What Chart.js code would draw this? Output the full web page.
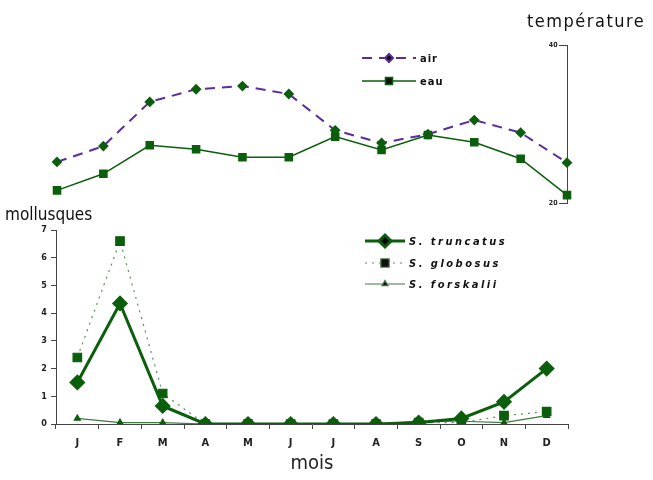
<!DOCTYPE html>
<html>
<head>
<meta charset="utf-8">
<script src="https://cdn.jsdelivr.net/npm/chart.js@4/dist/chart.umd.min.js"></script>
<style>
  body { margin: 0; background: #fff; width: 653px; height: 480px; overflow: hidden; position: relative; }
  .box { position: absolute; left: 0; }
</style>
</head>
<body>
<div class="box" style="top:0;width:653px;height:215px"><canvas id="tempChart"></canvas></div>
<div class="box" style="top:205px;width:653px;height:275px"><canvas id="molChart"></canvas></div>
<script>
const months = ["J", "F", "M", "A", "M", "J", "J", "A", "S", "O", "N", "D"];
const airTemp = [25.2, 27.2, 32.8, 34.4, 34.8, 33.8, 29.2, 27.6, 28.7, 30.5, 28.9, 25.1];
const waterTemp = [21.6, 23.7, 27.3, 26.8, 25.8, 25.8, 28.4, 26.7, 28.6, 27.7, 25.6, 21.0];
const truncatus = [1.5, 4.35, 0.65, 0, 0, 0, 0, 0, 0.05, 0.2, 0.8, 2.0];
const globosus = [2.4, 6.6, 1.1, 0, 0, 0, 0, 0, 0.05, 0.05, 0.3, 0.45];
const forskalii = [0.2, 0.05, 0.05, 0, 0, 0, 0, 0, 0.1, 0.1, 0.05, 0.3];
const tempTicks = [20, 40];

const green = "#0b5e0b";
const purple = "#5a2ca0";
const font = "'DejaVu Sans Condensed', 'DejaVu Sans', sans-serif";

// draws a small legend + free texts on the canvas
const annotate = {
  id: "annotate",
  afterDraw(chart, args, opts) {
    const ctx = chart.ctx;
    ctx.save();
    opts.legend.forEach((item, i) => {
      const ds = chart.data.datasets[i];
      const y = item.y;
      ctx.strokeStyle = ds.borderColor;
      ctx.lineWidth = ds.borderWidth;
      ctx.setLineDash(ds.borderDash || []);
      ctx.beginPath();
      ctx.moveTo(item.x, y);
      ctx.lineTo(item.x + item.w, y);
      ctx.stroke();
      ctx.setLineDash([]);
      Chart.helpers.drawPoint(ctx, {
        pointStyle: ds.pointStyle, radius: ds.pointRadius, rotation: 0, borderWidth: 1
      }, item.x + item.w / 2, y);
      ctx.fillStyle = "#111";
      ctx.font = item.font;
      ctx.letterSpacing = item.spacing || "0px";
      ctx.textBaseline = "middle";
      ctx.fillText(ds.label, item.x + item.w + 4, y + 1);
      ctx.letterSpacing = "0px";
    });
    (opts.texts || []).forEach(t => {
      ctx.fillStyle = "#111";
      ctx.font = t.font;
      ctx.letterSpacing = t.spacing || "0px";
      ctx.textBaseline = "middle";
      ctx.fillText(t.text, t.x, t.y);
      ctx.letterSpacing = "0px";
    });
    ctx.restore();
  }
};

new Chart(document.getElementById("tempChart"), {
  type: "line",
  data: {
    labels: months,
    datasets: [
      { label: "air", data: airTemp, borderColor: purple, borderWidth: 2, borderDash: [10, 7],
        pointStyle: "rectRot", pointRadius: 4, pointBackgroundColor: green, pointBorderColor: green },
      { label: "eau", data: waterTemp, borderColor: green, borderWidth: 1.5,
        pointStyle: "rect", pointRadius: 5, pointBackgroundColor: green, pointBorderColor: green }
    ]
  },
  options: {
    responsive: true,
    maintainAspectRatio: false,
    animation: false,
    layout: { padding: { left: 57, right: 86, top: 45, bottom: 12 } },
    plugins: {
      legend: { display: false },
      tooltip: { enabled: false },
      annotate: {
        legend: [
          { x: 362, y: 58, w: 54, font: "bold 11px " + font, spacing: "1px" },
          { x: 362, y: 81, w: 54, font: "bold 11px " + font, spacing: "1px" }
        ],
        texts: [{ text: "température", x: 527, y: 22, font: "18px " + font, spacing: "1.5px" }]
      }
    },
    scales: {
      x: { display: false, offset: false },
      y: {
        position: { x: 11 }, min: 20, max: 40,
        afterBuildTicks: s => { s.ticks = tempTicks.map(v => ({ value: v })); },
        border: { display: true, color: "#444", width: 1 },
        grid: { drawOnChartArea: false, drawTicks: true, tickLength: 8, color: "#444" },
        // labels sit left of the little tick mark
        ticks: { callback: v => v + "\u2002\u2002\u2002", color: "#222", font: { size: 7, weight: "bold", family: font } }
      }
    }
  },
  plugins: [annotate]
});

new Chart(document.getElementById("molChart"), {
  type: "line",
  data: {
    labels: months,
    datasets: [
      { label: "S. truncatus", data: truncatus, borderColor: green, borderWidth: 3,
        pointStyle: "rectRot", pointRadius: 6, pointBackgroundColor: green, pointBorderColor: green },
      { label: "S. globosus", data: globosus, borderColor: "#5f8a5f", borderWidth: 1.2, borderDash: [2, 5],
        pointStyle: "rect", pointRadius: 6, pointBackgroundColor: green, pointBorderColor: green },
      { label: "S. forskalii", data: forskalii, borderColor: "#3f7a3f", borderWidth: 1.2,
        pointStyle: "triangle", pointRadius: 3.5, pointBackgroundColor: green, pointBorderColor: green }
    ]
  },
  options: {
    responsive: true,
    maintainAspectRatio: false,
    animation: false,
    layout: { padding: { left: 0, right: 85, top: 25, bottom: 0 } },
    plugins: {
      legend: { display: false },
      tooltip: { enabled: false },
      annotate: {
        legend: [
          { x: 365, y: 36, w: 40, font: "italic bold 11px " + font, spacing: "2.5px" },
          { x: 365, y: 58, w: 40, font: "italic bold 11px " + font, spacing: "2.5px" },
          { x: 365, y: 79, w: 40, font: "italic bold 11px " + font, spacing: "2.5px" }
        ],
        texts: [{ text: "mollusques", x: 5, y: 11, font: "17px " + font }]
      }
    },
    scales: {
      x: {
        offset: true,
        afterFit: s => { s.height = 56; },
        border: { display: true, color: "#444", width: 1 },
        grid: { drawOnChartArea: false, offset: true, tickLength: 5, color: "#444" },
        ticks: { color: "#222", padding: 8, font: { size: 11, weight: "bold", family: font } },
        title: { display: true, text: "mois", color: "#222", padding: { top: 0 }, font: { size: 20, family: font } }
      },
      y: {
        min: 0, max: 7,
        afterFit: s => { s.width = 56; },
        border: { display: true, color: "#444", width: 1 },
        grid: { drawOnChartArea: false, tickLength: 5, color: "#444" },
        ticks: { stepSize: 1, color: "#222", padding: 4, font: { size: 9, weight: "bold", family: font } }
      }
    }
  },
  plugins: [annotate]
});
</script>
</body>
</html>
